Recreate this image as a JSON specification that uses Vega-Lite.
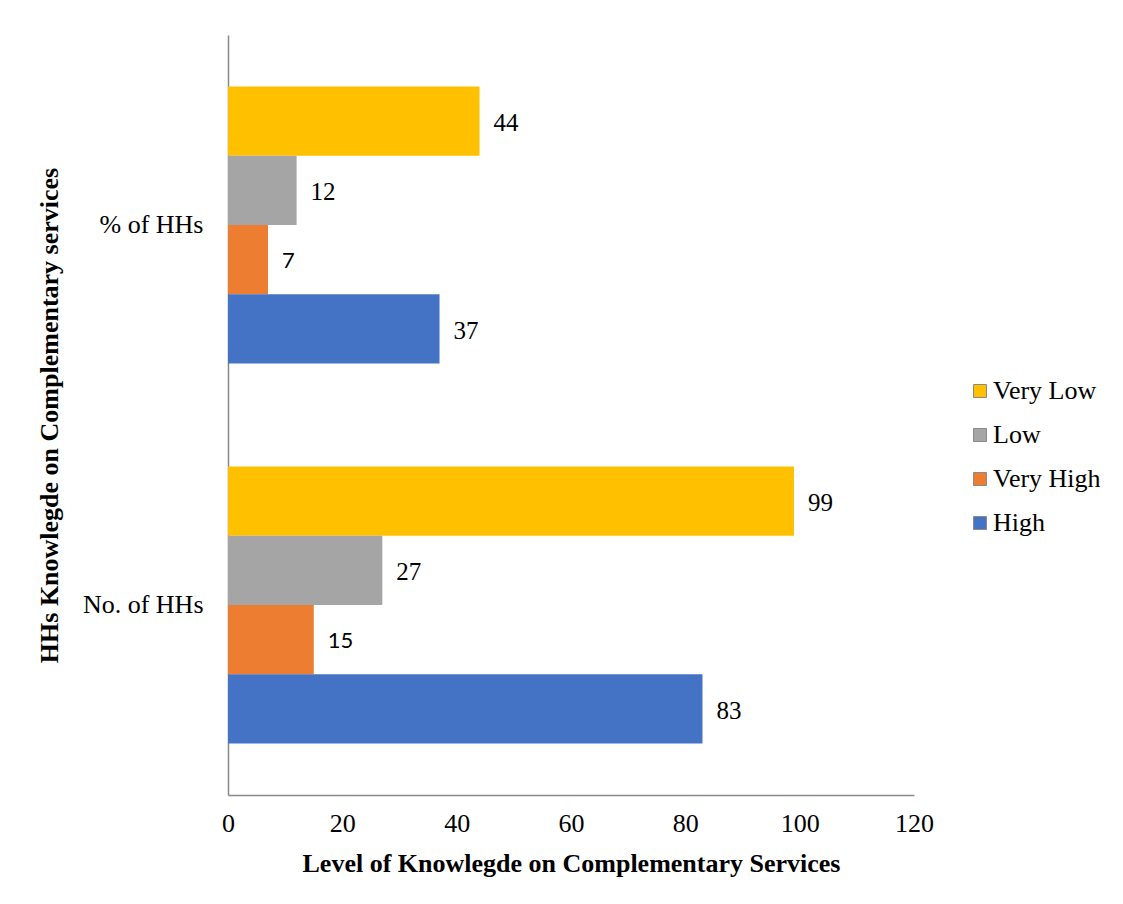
{
  "$schema": "https://vega.github.io/schema/vega-lite/v6.json",
  "width": 686,
  "height": 760,
  "autosize": {"type": "none"},
  "padding": {"left": 228, "top": 35, "right": 209, "bottom": 109},
  "background": "white",
  "config": {
    "view": {"stroke": null},
    "font": "Liberation Serif",
    "axis": {"labelFont": "Liberation Serif", "titleFont": "Liberation Serif", "labelColor": "black", "titleColor": "black"},
    "legend": {"labelFont": "Liberation Serif", "labelColor": "black"}
  },
  "data": {
    "values": [
      {"group": "% of HHs", "series": "Very Low", "value": 44},
      {"group": "% of HHs", "series": "Low", "value": 12},
      {"group": "% of HHs", "series": "Very High", "value": 7},
      {"group": "% of HHs", "series": "High", "value": 37},
      {"group": "No. of HHs", "series": "Very Low", "value": 99},
      {"group": "No. of HHs", "series": "Low", "value": 27},
      {"group": "No. of HHs", "series": "Very High", "value": 15},
      {"group": "No. of HHs", "series": "High", "value": 83}
    ]
  },
  "encoding": {
    "y": {
      "field": "group",
      "type": "nominal",
      "sort": ["% of HHs", "No. of HHs"],
      "scale": {"paddingInner": 0.271, "paddingOuter": 0.1355},
      "axis": {
        "title": "HHs Knowlegde on Complementary services",
        "titleFontSize": 26,
        "titleFontWeight": "bold",
        "titleX": -166,
        "titleY": 380,
        "labelFontSize": 26,
        "labelPadding": 25,
        "ticks": false,
        "domainColor": "#898989",
        "domainWidth": 1.5,
        "grid": false
      }
    },
    "yOffset": {
      "field": "series",
      "type": "nominal",
      "sort": ["Very Low", "Low", "Very High", "High"],
      "scale": {"paddingInner": 0, "paddingOuter": 0}
    }
  },
  "layer": [
    {
      "mark": {"type": "bar"},
      "encoding": {
        "x": {
          "field": "value",
          "type": "quantitative",
          "scale": {"domain": [0, 120], "nice": false},
          "axis": {
            "title": "Level of Knowlegde on Complementary Services",
            "titleFontSize": 26,
            "titleFontWeight": "bold",
            "titlePadding": 14,
            "values": [0, 20, 40, 60, 80, 100, 120],
            "labelFontSize": 26,
            "labelPadding": 15,
            "labelFlush": false,
            "ticks": false,
            "grid": false,
            "domainColor": "#898989",
            "domainWidth": 1.5
          }
        },
        "color": {
          "field": "series",
          "type": "nominal",
          "scale": {
            "domain": ["Very Low", "Low", "Very High", "High"],
            "range": ["#FFC000", "#A5A5A5", "#ED7D31", "#4472C4"]
          },
          "legend": {
            "title": null,
            "orient": "none",
            "legendX": 739,
            "legendY": 343,
            "padding": 0,
            "symbolType": "square",
            "symbolSize": 169,
            "symbolStrokeWidth": 1,
            "symbolStrokeColor": "#8a8a8a",
            "labelFontSize": 26,
            "labelOffset": 0,
            "rowPadding": 18
          }
        }
      }
    },
    {
      "transform": [{"filter": "datum.series !== 'Very High'"}],
      "mark": {"type": "text", "align": "left", "baseline": "middle", "dx": 14, "dy": 2, "fontSize": 25, "font": "Liberation Serif", "color": "black"},
      "encoding": {
        "x": {"field": "value", "type": "quantitative"},
        "text": {"field": "value", "type": "quantitative"}
      }
    },
    {
      "transform": [{"filter": "datum.series === 'Very High'"}],
      "mark": {"type": "text", "align": "left", "baseline": "middle", "dx": 14, "dy": 1, "fontSize": 22, "font": "Lato", "color": "black"},
      "encoding": {
        "x": {"field": "value", "type": "quantitative"},
        "text": {"field": "value", "type": "quantitative"}
      }
    }
  ]
}
